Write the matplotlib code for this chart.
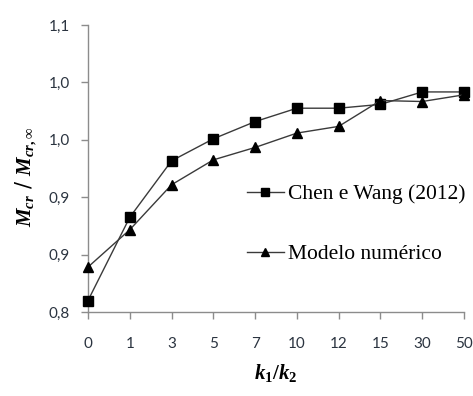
"""
Mcr / Mcr,inf against k1/k2: Chen e Wang (2012) vs numerical model.
"""

import numpy as np
import matplotlib.pyplot as plt

# ---- Data ----

categories   = ['0', '1', '3', '5', '7', '10', '12', '15', '30', '50']
chen_wang    = [0.812, 0.899, 0.958, 0.981, 0.999, 1.013, 1.013, 1.017, 1.030, 1.030]
modelo_num   = [0.847, 0.886, 0.933, 0.959, 0.972, 0.987, 0.994, 1.021, 1.020, 1.027]

y_ticks       = [0.80, 0.86, 0.92, 0.98, 1.04, 1.10]
y_tick_labels = ['0,8', '0,9', '0,9', '1,0', '1,0', '1,1']

# ---- Fonts ----

plt.rcParams['mathtext.fontset'] = 'custom'
plt.rcParams['mathtext.it']      = 'Liberation Serif:italic:bold'
plt.rcParams['mathtext.rm']      = 'Liberation Serif:bold'
plt.rcParams['mathtext.bf']      = 'Liberation Serif:bold'

axis_grey  = '#8c8c8c'
label_grey = '#2b3440'
line_grey  = '#3a3a3a'

fig = plt.figure(figsize=(4.73, 3.96), dpi=100)
ax  = fig.add_axes([0.186, 0.212, 0.795, 0.725])

x_positions = np.arange(len(categories))

ax.plot(x_positions, chen_wang, color=line_grey, linewidth=1.0,
        marker='s', markersize=7.5, markerfacecolor='black',
        markeredgecolor='black', label='Chen e Wang (2012)', clip_on=False, zorder=3)
ax.plot(x_positions, modelo_num, color=line_grey, linewidth=1.0,
        marker='^', markersize=7, markerfacecolor='black',
        markeredgecolor='black', label='Modelo numérico', clip_on=False, zorder=3)

ax.set_xlim(0, len(categories) - 1)
ax.set_ylim(0.80, 1.10)
ax.set_xticks(x_positions)
ax.set_xticklabels(categories)
ax.set_yticks(y_ticks)
ax.set_yticklabels(y_tick_labels)

for side in ['top', 'right']:
    ax.spines[side].set_visible(False)
for side in ['left', 'bottom']:
    ax.spines[side].set_color(axis_grey)
    ax.spines[side].set_linewidth(1.0)

ax.tick_params(axis='both', direction='out', length=5, width=1.0,
               color=axis_grey, labelcolor=label_grey, labelsize=11)
ax.tick_params(axis='x', pad=13)
ax.tick_params(axis='y', pad=8)
for tick_label in ax.get_xticklabels() + ax.get_yticklabels():
    tick_label.set_fontfamily('Lato')

ax.set_ylabel(r'$M_{cr}$ / $M_{cr,\infty}$', fontsize=15)
ax.yaxis.set_label_coords(-0.13, 0.47)
ax.set_xlabel(r'$k_{\mathrm{1}}/k_{\mathrm{2}}$', fontsize=15, labelpad=8)

ax.legend(loc='upper left', bbox_to_anchor=(0.423, 0.445), frameon=False,
          prop={'family': 'Liberation Serif', 'size': 15.5},
          borderpad=0, borderaxespad=0, markerscale=0.8,
          handlelength=1.7, handletextpad=0.2, labelspacing=1.85)

plt.savefig('out.png', dpi=100)
